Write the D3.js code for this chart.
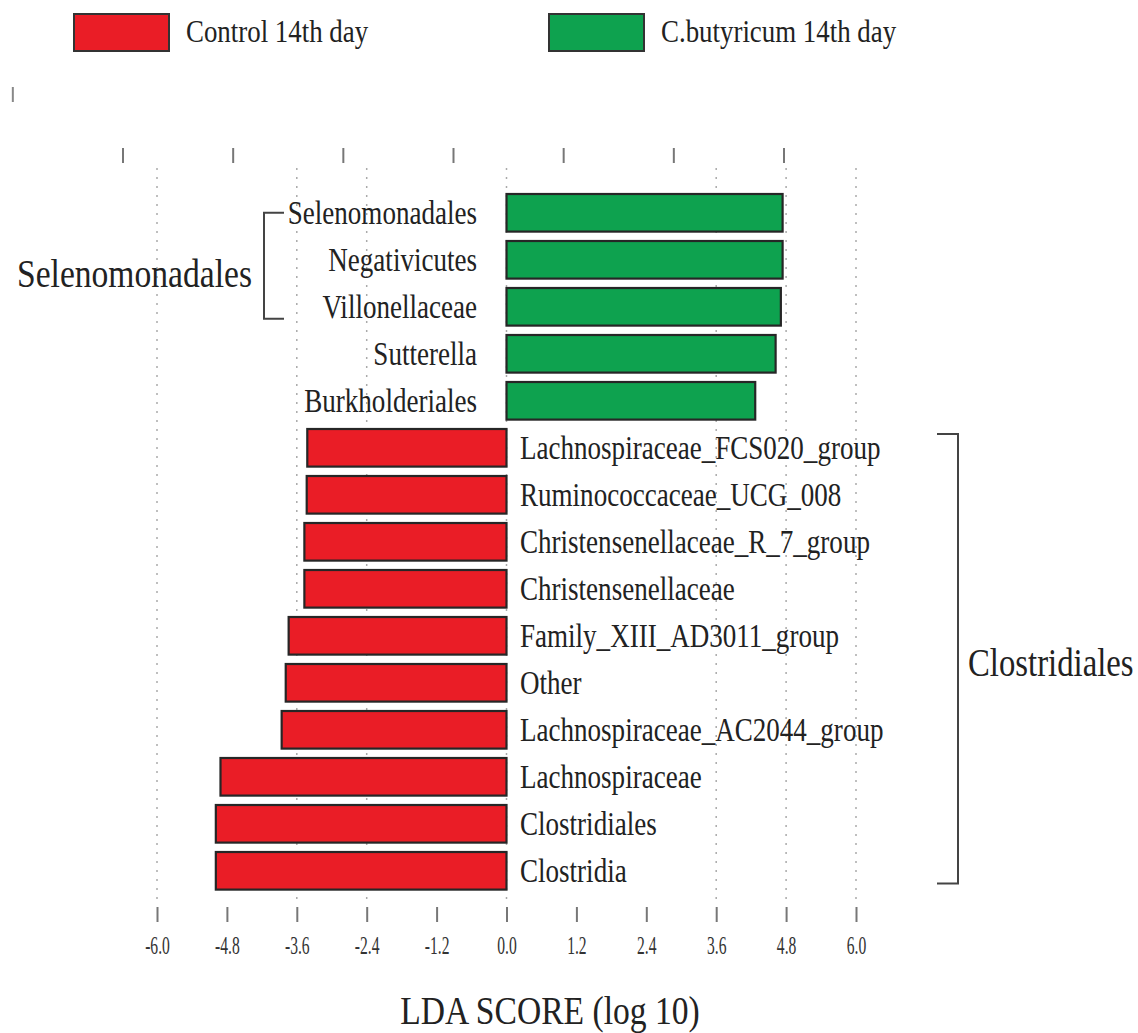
<!DOCTYPE html>
<html>
<head>
<meta charset="utf-8">
<script src="https://cdn.jsdelivr.net/npm/d3@7"></script>
<style>
  html, body { margin: 0; padding: 0; background: #fff; }
  svg { display: block; font-family: "Liberation Serif", "Times New Roman", serif; }
</style>
</head>
<body>
<svg id="chart" width="1138" height="1033"></svg>
<script>
// LDA effect sizes (log10) for each discriminating taxon, top to bottom
const taxa = [
  "Selenomonadales", "Negativicutes", "Villonellaceae", "Sutterella", "Burkholderiales",
  "Lachnospiraceae_FCS020_group", "Ruminococcaceae_UCG_008", "Christensenellaceae_R_7_group",
  "Christensenellaceae", "Family_XIII_AD3011_group", "Other", "Lachnospiraceae_AC2044_group",
  "Lachnospiraceae", "Clostridiales", "Clostridia"
];
const ldaScores = [
  4.74, 4.74, 4.71, 4.62, 4.27,
  -3.42, -3.43, -3.47, -3.47, -3.74, -3.79, -3.86,
  -4.91, -4.99, -4.99
];
const groups = ["Control 14th day", "C.butyricum 14th day"];
const groupColors = ["#EA1D26", "#0EA24F"];
const tickValues = [-6.0, -4.8, -3.6, -2.4, -1.2, 0.0, 1.2, 2.4, 3.6, 4.8, 6.0];
const gridValues = [-6.0, -3.6, -2.4, 0.0, 3.6, 4.8, 6.0];
const topTickValues = [0, 1, 2, 3, 4, 5, 6];
const cladeBrackets = [
  { name: "Selenomonadales", from: "Selenomonadales", to: "Villonellaceae", side: "left" },
  { name: "Clostridiales", from: "Lachnospiraceae_FCS020_group", to: "Clostridia", side: "right" }
];
const axisTitle = "LDA SCORE (log 10)";

const data = taxa.map((t, i) => ({ taxon: t, score: ldaScores[i] }));

const svg = d3.select("#chart");
const ink = "#222";

// narrow serif text: placed by a transform, squeezed horizontally
function label(parent, x, y, txt, size, anchor, sx) {
  return parent.append("text")
    .attr("transform", `translate(${x},${y}) scale(${sx},1)`)
    .attr("text-anchor", anchor || "start")
    .attr("font-size", size).attr("fill", ink)
    .text(txt);
}

const x = d3.scaleLinear().domain([-6, 6]).range([157, 856]);
const y = d3.scaleBand().domain(taxa).range([189.3, 894.3]).paddingInner(0.2).paddingOuter(0.1);
const topX = d3.scaleLinear().domain([0, 6]).range([123, 784]);

// legend
const legend = svg.append("g");
const legendX = [74, 549];
groups.forEach((g, i) => {
  legend.append("rect")
    .attr("x", legendX[i]).attr("y", 14).attr("width", 95).attr("height", 37)
    .attr("fill", groupColors[i]).attr("stroke", "#333").attr("stroke-width", 2);
  label(legend, legendX[i] + 112, 42, g, 32, "start", 0.84);
});

// unlabeled tick marks above the plot
svg.append("g").selectAll("line").data(topTickValues).join("line")
  .attr("x1", d => topX(d)).attr("x2", d => topX(d))
  .attr("y1", 148).attr("y2", 163)
  .attr("stroke", "#777").attr("stroke-width", 2);
svg.append("line")
  .attr("x1", topX(-1)).attr("x2", topX(-1)).attr("y1", 87).attr("y2", 102)
  .attr("stroke", "#888").attr("stroke-width", 2);

// dotted vertical gridlines
svg.append("g").selectAll("line").data(gridValues).join("line")
  .attr("x1", d => x(d)).attr("x2", d => x(d))
  .attr("y1", 168).attr("y2", 905)
  .attr("stroke", "#aaa").attr("stroke-width", 1.5)
  .attr("stroke-dasharray", "2,7");

// bars
svg.append("g").selectAll("rect").data(data).join("rect")
  .attr("x", d => x(Math.min(0, d.score)))
  .attr("y", d => y(d.taxon))
  .attr("width", d => Math.abs(x(d.score) - x(0)))
  .attr("height", y.bandwidth())
  .attr("fill", d => d.score > 0 ? groupColors[1] : groupColors[0])
  .attr("stroke", "#262626").attr("stroke-width", 2.2);

// taxon labels: positive bars labelled on the left, negative on the right
const taxonLabels = svg.append("g");
data.forEach(d => {
  const cy = y(d.taxon) + y.bandwidth() / 2 + 11;
  if (d.score > 0) label(taxonLabels, 477, cy, d.taxon, 33, "end", 0.82);
  else label(taxonLabels, 520, cy, d.taxon, 33, "start", 0.82);
});

// clade brackets
cladeBrackets.forEach(b => {
  const g = svg.append("g").attr("fill", "none").attr("stroke", "#444").attr("stroke-width", 2);
  if (b.side === "left") {
    const top = y(b.from) + y.bandwidth() / 2;
    const bot = y(b.to) + y.bandwidth() / 2 + 12, xv = 264;
    g.append("path").attr("d", `M${xv + 20},${top}H${xv}V${bot}H${xv + 20}`);
    label(svg, 252, (top + bot) / 2 + 21, b.name, 40, "end", 0.84);
  } else {
    const top = y(b.from) + 5, bot = y(b.to) + y.bandwidth() - 6, xv = 958;
    g.append("path").attr("d", `M${xv - 21},${top}H${xv}V${bot}H${xv - 21}`);
    label(svg, 968, (top + bot) / 2 + 17, b.name, 39, "start", 0.84);
  }
});

// bottom axis: short ticks and narrow numeric labels, no domain line
const axis = svg.append("g").attr("transform", "translate(0,907)")
  .call(d3.axisBottom(x).tickValues(tickValues).tickSize(15).tickPadding(0)
    .tickFormat(d => d.toFixed(1)));
axis.select(".domain").remove();
axis.selectAll(".tick line").attr("stroke", "#777").attr("stroke-width", 2);
axis.selectAll(".tick text").remove();
axis.selectAll(".tick").append("text")
  .attr("transform", "translate(0,47) scale(0.6,1)")
  .attr("text-anchor", "middle")
  .attr("font-family", "Liberation Serif")
  .attr("font-size", 26).attr("fill", "#333")
  .text(d => d.toFixed(1));

label(svg, 550, 1024, axisTitle, 40, "middle", 0.84);
</script>
</body>
</html>
